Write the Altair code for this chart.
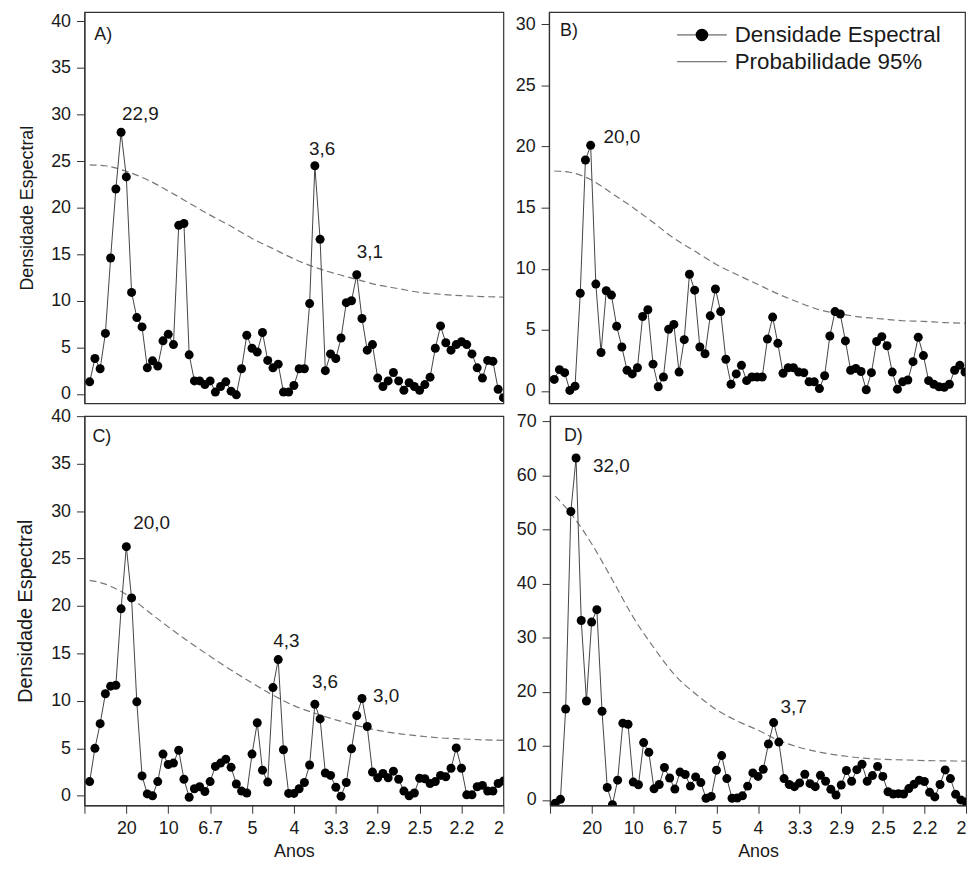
import altair as alt
import pandas as pd

FONT = "Liberation Sans"
INK = "#1a1a1a"

# frequency grid: k / 160 (cycles per year), k = 1..80
K = list(range(1, 81))
N_YEARS = 160
FREQ = [k / N_YEARS for k in K]

dens_a = [1.3, 3.8, 2.7, 6.5, 14.6, 22.0, 28.1, 23.3, 10.9, 8.2,
          7.2, 2.8, 3.55, 3.0, 5.7, 6.4, 5.3, 18.1, 18.3, 4.2,
          1.4, 1.4, 1.0, 1.4, 0.2, 0.8, 1.3, 0.3, -0.1, 2.7,
          6.3, 4.9, 4.5, 6.6, 3.6, 2.8, 3.2, 0.2, 0.2, 0.9,
          2.7, 2.7, 9.7, 24.5, 16.6, 2.5, 4.3, 3.8, 6.0, 9.8,
          10.0, 12.8, 8.1, 4.7, 5.3, 1.7, 0.8, 1.4, 2.3, 1.4,
          0.4, 1.2, 0.8, 0.4, 1.0, 1.8, 4.9, 7.3, 5.5, 4.7,
          5.3, 5.6, 5.3, 4.3, 2.8, 1.7, 3.6, 3.5, 0.5, -0.4]

dens_b = [0.95, 1.75, 1.5, 0.05, 0.4, 8.0, 18.9, 20.1, 8.75, 3.15,
          8.2, 7.85, 5.3, 3.6, 1.7, 1.4, 1.9, 6.1, 6.65, 2.2,
          0.35, 1.15, 5.05, 5.45, 1.55, 4.2, 9.55, 8.25, 3.6, 3.05,
          6.15, 8.35, 6.5, 2.6, 0.55, 1.4, 2.1, 0.85, 1.15, 1.15,
          1.15, 4.25, 6.05, 3.9, 1.45, 1.9, 1.9, 1.55, 1.5, 0.75,
          0.75, 0.2, 1.25, 4.5, 6.5, 6.3, 4.1, 1.7, 1.85, 1.6,
          0.1, 1.5, 4.05, 4.45, 3.7, 1.55, 0.15, 0.75, 0.9, 2.4,
          4.4, 2.9, 0.85, 0.55, 0.35, 0.3, 0.55, 1.7, 2.1, 1.55]

dens_c = [1.5, 5.0, 7.6, 10.75, 11.55, 11.65, 19.7, 26.25, 20.85, 9.9,
          2.1, 0.2, 0.0, 1.5, 4.4, 3.3, 3.45, 4.8, 1.75, -0.15,
          0.75, 0.95, 0.45, 1.5, 3.1, 3.45, 3.85, 3.0, 1.25, 0.5,
          0.3, 4.4, 7.7, 2.7, 1.45, 11.4, 14.35, 4.85, 0.25, 0.25,
          0.75, 1.4, 3.25, 9.65, 8.1, 2.4, 2.15, 0.9, -0.05, 1.4,
          4.95, 8.45, 10.25, 7.3, 2.5, 1.9, 2.35, 1.9, 2.6, 1.75,
          0.5, 0.0, 0.3, 1.85, 1.8, 1.3, 1.5, 2.15, 2.0, 2.9,
          5.05, 2.9, 0.1, 0.1, 0.95, 1.1, 0.5, 0.5, 1.3, 1.55]

dens_d = [-0.6, 0.1, 16.8, 53.35, 63.25, 33.2, 18.3, 32.9, 35.2, 16.4,
          2.3, -0.9, 3.65, 14.2, 14.0, 3.3, 2.8, 10.6, 8.8, 2.05,
          2.85, 6.0, 4.05, 2.0, 5.15, 4.7, 2.55, 4.25, 3.2, 0.3,
          0.65, 5.5, 8.2, 3.95, 0.3, 0.35, 0.75, 2.55, 5.0, 4.35,
          5.65, 10.35, 14.3, 10.7, 3.95, 2.85, 2.45, 3.15, 4.75, 3.0,
          2.45, 4.55, 3.45, 1.95, 0.9, 2.75, 5.45, 3.45, 5.6, 6.6,
          3.45, 4.5, 6.2, 4.35, 1.5, 1.1, 1.15, 1.1, 2.1, 2.9,
          3.65, 3.4, 1.4, 0.55, 2.85, 5.55, 3.95, 1.05, 0.0, -0.4]

# 95% significance curve, read at these frequencies
thr_f = [0.00625, 0.025, 0.05, 0.075, 0.1, 0.125, 0.15, 0.175, 0.2, 0.225, 0.25,
         0.275, 0.3, 0.325, 0.35, 0.375, 0.4, 0.425, 0.45, 0.475, 0.5]
thr_a = [24.6, 24.5, 23.9, 23.0, 21.8, 20.5, 19.2, 18.0, 16.7, 15.6, 14.5,
         13.6, 12.9, 12.3, 11.7, 11.3, 10.9, 10.7, 10.55, 10.45, 10.4]
thr_b = [18.0, 17.9, 17.3, 16.2, 15.05, 13.8, 12.5, 11.45, 10.4, 9.55, 8.75,
         7.95, 7.25, 6.65, 6.3, 6.05, 5.9, 5.75, 5.7, 5.6, 5.55]
thr_c = [22.7, 22.3, 21.2, 19.5, 17.8, 16.2, 14.7, 13.25, 11.9, 10.6, 9.5,
         8.7, 8.0, 7.4, 6.9, 6.55, 6.3, 6.1, 6.0, 5.9, 5.85]
thr_d = [56.2, 53.0, 47.4, 40.7, 33.8, 28.1, 23.1, 19.6, 16.7, 14.6, 12.9,
         11.0, 9.7, 8.8, 8.2, 7.75, 7.5, 7.4, 7.28, 7.22, 7.17]

# x-axis ticks (frequency) and their labels (period in years)
x_ticks = [round(0.05 * i, 2) for i in range(11)]
x_labels = ["", "20", "10", "6.7", "5", "4", "3.3", "2.9", "2.5", "2.2", "2"]

# peak annotations: label text and k index
peaks_a_txt = ["22,9", "3,6", "3,1"]
peaks_a_k = [7, 44, 52]
peaks_b_txt = ["20,0"]
peaks_b_k = [8]
peaks_c_txt = ["20,0", "4,3", "3,6", "3,0"]
peaks_c_k = [8, 37, 44, 53]
peaks_d_txt = ["32,0", "3,7"]
peaks_d_k = [5, 43]

legend_labels = ["Densidade Espectral", "Probabilidade 95%"]
y_title = "Densidade Espectral"
x_title = "Anos"

label_expr = "[" + ",".join("'%s'" % s for s in x_labels) + "][round(datum.value * 20)]"


def panel(letter, dens, thr, ydom, yticks, ptxt, pk, offsets, letter_xy,
          w, h, show_x, ytitle_size=0, ytitle_pad=0, legend=False):
    df = pd.DataFrame({"f": FREQ, "v": dens})
    dt = pd.DataFrame({"f": thr_f, "v": thr})

    xscale = alt.Scale(domain=[0, 0.5], nice=False, zero=False)
    if show_x:
        xaxis = alt.Axis(values=x_ticks, labelExpr=label_expr, title=x_title,
                         titleFontSize=18, titlePadding=6, labelFontSize=18)
    else:
        xaxis = alt.Axis(values=x_ticks, labels=False, ticks=False, domain=False, title="")
    xenc = alt.X("f:Q", scale=xscale, axis=xaxis)

    if ytitle_size:
        yaxis = alt.Axis(values=yticks, labelFontSize=18, title=y_title,
                         titleFontSize=ytitle_size, titlePadding=ytitle_pad)
    else:
        yaxis = alt.Axis(values=yticks, labelFontSize=18, title="")
    yenc = alt.Y("v:Q", scale=alt.Scale(domain=ydom, nice=False, zero=False), axis=yaxis)

    base = alt.Chart(df).encode(x=xenc, y=yenc)
    line = base.mark_line(color="#444", strokeWidth=1, clip=True)
    pts = base.mark_circle(size=82, color="#000", opacity=1, clip=True)
    dash = alt.Chart(dt).mark_line(color="#777", strokeWidth=1.2, strokeDash=[7, 4],
                                   interpolate="monotone", clip=True).encode(x=xenc, y=yenc)

    layers = [dash, line, pts]
    for txt, k, (dx, dy) in zip(ptxt, pk, offsets):
        pdf = pd.DataFrame({"f": [FREQ[k - 1]], "v": [dens[k - 1]], "t": [txt]})
        layers.append(alt.Chart(pdf).mark_text(align="left", baseline="alphabetic",
                                               fontSize=19, color=INK, dx=dx, dy=dy).encode(
            x=xenc, y=yenc, text="t:N"))

    ldf = pd.DataFrame({"t": [letter]})
    layers.append(alt.Chart(ldf).mark_text(align="left", baseline="alphabetic",
                                           fontSize=18, color=INK).encode(
        x=alt.value(letter_xy[0]), y=alt.value(letter_xy[1]), text="t:N"))

    if legend:
        l1 = pd.DataFrame({"t": [legend_labels[0]]})
        l2 = pd.DataFrame({"t": [legend_labels[1]]})
        layers.append(alt.Chart(l1).mark_rule(color="#444", strokeWidth=1).encode(
            x=alt.value(129), x2=alt.value(179), y=alt.value(23)))
        layers.append(alt.Chart(l1).mark_circle(size=160, color="#000", opacity=1).encode(
            x=alt.value(154), y=alt.value(23)))
        layers.append(alt.Chart(l1).mark_text(align="left", baseline="middle", fontSize=22.5,
                                              color=INK).encode(
            x=alt.value(187), y=alt.value(23), text="t:N"))
        layers.append(alt.Chart(l2).mark_rule(color="#555", strokeWidth=1).encode(
            x=alt.value(129), x2=alt.value(179), y=alt.value(50)))
        layers.append(alt.Chart(l2).mark_text(align="left", baseline="middle", fontSize=22.5,
                                              color=INK).encode(
            x=alt.value(187), y=alt.value(50), text="t:N"))

    return alt.layer(*layers).properties(width=w, height=h)


pa = panel("A)", dens_a, thr_a, [-1, 41], list(range(0, 41, 5)), peaks_a_txt, peaks_a_k,
           [(1, -12), (-6, -11), (0, -17)], (10, 28), 422, 394, False, 18, 14)
pb = panel("B)", dens_b, thr_b, [-1, 31], list(range(0, 31, 5)), peaks_b_txt, peaks_b_k,
           [(13, -2)], (11, 24), 419, 394, False, legend=True)
pc = panel("C)", dens_c, thr_c, [-1, 40], list(range(0, 41, 5)), peaks_c_txt, peaks_c_k,
           [(7, -18), (-5, -13), (-3, -16), (11, 3)], (8, 26), 422, 392, True, 20, 15)
pd_ = panel("D)", dens_d, thr_d, [-1, 71], list(range(0, 71, 10)), peaks_d_txt, peaks_d_k,
            [(17, 14), (7, -10)], (14, 25), 419, 392, True)

row1 = alt.hconcat(pa, pb, spacing=10)
row2 = alt.hconcat(pc, pd_, spacing=10)

chart = alt.vconcat(row1, row2, spacing=2).properties(
    padding={"left": 7, "top": 0, "right": 0, "bottom": 0}
).configure_view(
    stroke="#333", strokeWidth=1.2
).configure_axis(
    labelFont=FONT, titleFont=FONT, tickSize=8, labelPadding=6,
    tickColor="#333", domainColor="#333", domainWidth=1.2, tickWidth=1,
    labelColor=INK, titleColor=INK, titleFontWeight="normal", grid=False
).configure_text(font=FONT)

chart.save("out.html", embed_options={"renderer": "svg", "actions": False})
